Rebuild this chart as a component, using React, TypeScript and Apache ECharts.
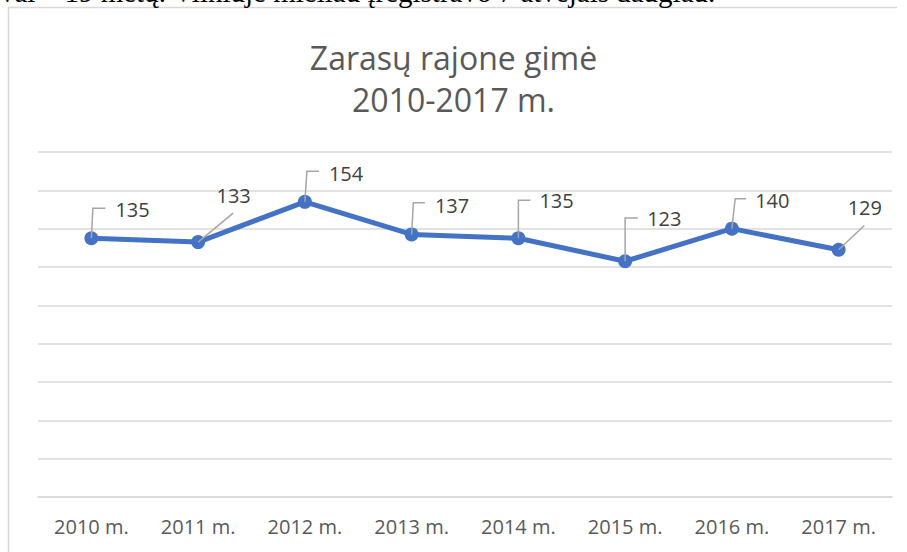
import React, { useEffect, useRef } from "react";
import * as echarts from "echarts";

// ---- data ----
const YEARS = ["2010 m.", "2011 m.", "2012 m.", "2013 m.", "2014 m.", "2015 m.", "2016 m.", "2017 m."];
const BIRTHS = [135, 133, 154, 137, 135, 123, 140, 129];
const Y_MIN = 0;
const Y_MAX = 180;
const Y_STEP = 20;
const TITLE_LINES = ["Zarasų rajone gimė", "2010-2017 m."];
const PAGE_TEXT = "vai – 19 metų. Vilniuje mieliau įregistravo 7 atvejais daugiau.";

// ---- label placement (style / layout, offsets from each point in px) ----
type Layout =
  | { kind: "elbow"; lean: number; vy: number; hx: number; tx: number; ty: number }
  | { kind: "diag"; ex: number; ey: number; tcx: number; ty: number };

const LABEL_LAYOUT: Layout[] = [
  { kind: "elbow", lean: 1.5, vy: -30, hx: 14, tx: 24, ty: -29 },
  { kind: "diag", ex: 35, ey: -29, tcx: 35.5, ty: -47 },
  { kind: "elbow", lean: 2, vy: -30.5, hx: 14, tx: 24, ty: -28.6 },
  { kind: "elbow", lean: 1.7, vy: -31.7, hx: 13.3, tx: 23.3, ty: -29.2 },
  { kind: "elbow", lean: 0, vy: -38, hx: 12, tx: 21, ty: -37.5 },
  { kind: "elbow", lean: 0, vy: -43.3, hx: 12.7, tx: 22, ty: -42.7 },
  { kind: "elbow", lean: 3.3, vy: -30, hx: 14.3, tx: 23.3, ty: -28.3 },
  { kind: "diag", ex: 25.7, ey: -24.3, tcx: 26.2, ty: -42 },
];

const FONT = '"Open Sans", "Noto Sans", sans-serif';

export default function App() {
  const ref = useRef<HTMLDivElement>(null);

  useEffect(() => {
    if (!ref.current) return;
    const chart = echarts.init(ref.current, null, { renderer: "svg" });

    const option: any = {
      animation: false,
      backgroundColor: "#ffffff",
      title: {
        text: TITLE_LINES.join("\n"),
        left: "center",
        top: 31,
        textStyle: {
          fontFamily: FONT,
          fontSize: 32,
          fontWeight: "normal",
          color: "#595959",
          lineHeight: 42,
        },
      },
      grid: { left: 38, right: 15, top: 152, bottom: 55, containLabel: false },
      xAxis: {
        type: "category",
        data: YEARS,
        boundaryGap: true,
        axisLine: { show: true, lineStyle: { color: "#d9d9d9", width: 1.5 } },
        axisTick: { show: false },
        axisLabel: {
          fontFamily: FONT,
          fontSize: 20,
          color: "#595959",
          margin: 19,
        },
      },
      yAxis: {
        type: "value",
        min: Y_MIN,
        max: Y_MAX,
        interval: Y_STEP,
        axisLine: { show: false },
        axisTick: { show: false },
        axisLabel: { show: false },
        splitLine: { show: true, lineStyle: { color: "#d9d9d9", width: 1.5 } },
      },
      graphic: [
        {
          type: "polyline",
          shape: { points: [[8.5, 560], [8.5, 7.5], [897, 7.5]] },
          style: { stroke: "#d9d9d9", lineWidth: 1.5, fill: null },
          silent: true,
        },
        {
          type: "text",
          x: 0,
          y: -8.5,
          style: {
            text: PAGE_TEXT,
            font: '29px "Liberation Serif", "DejaVu Serif", serif',
            fill: "#000000",
            textAlign: "left",
            textVerticalAlign: "middle",
            align: "left",
            verticalAlign: "middle",
          },
          silent: true,
        },
      ],
      series: [
        {
          type: "line",
          data: BIRTHS,
          symbol: "circle",
          symbolSize: 14,
          lineStyle: { color: "#4472C4", width: 5 },
          itemStyle: { color: "#4472C4" },
          z: 2,
        },
        {
          type: "custom",
          data: BIRTHS.map((v, i) => [i, v]),
          encode: { x: 0, y: 1 },
          clip: false,
          z: 3,
          silent: true,
          renderItem: (params: any, api: any) => {
            const i = api.value(0);
            const v = api.value(1);
            const [px, py] = api.coord([i, v]);
            const L = LABEL_LAYOUT[i];
            let points: number[][];
            let tx: number;
            let align: string;
            if (L.kind === "elbow") {
              points = [
                [px, py],
                [px + L.lean, py + L.vy],
                [px + L.hx, py + L.vy],
              ];
              tx = px + L.tx;
              align = "left";
            } else {
              points = [
                [px, py],
                [px + L.ex, py + L.ey],
              ];
              tx = px + L.tcx;
              align = "center";
            }
            return {
              type: "group",
              children: [
                {
                  type: "polyline",
                  shape: { points },
                  style: { stroke: "#a6a6a6", lineWidth: 1.5, fill: null },
                },
                {
                  type: "text",
                  x: tx,
                  y: py + L.ty,
                  style: {
                    text: String(v),
                    font: `20px ${FONT}`,
                    fill: "#404040",
                    textAlign: align,
                    textVerticalAlign: "middle",
                    align,
                    verticalAlign: "middle",
                  },
                },
              ],
            };
          },
        },
      ],
    };

    chart.setOption(option);
    return () => chart.dispose();
  }, []);

  return (
    <div
      ref={ref}
      style={{ position: "absolute", left: 0, top: 0, width: 907, height: 552, background: "#fff" }}
    />
  );
}
